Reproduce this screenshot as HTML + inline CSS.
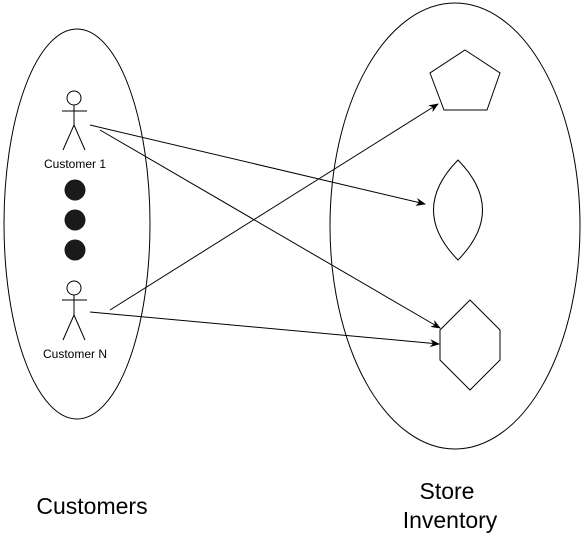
<!DOCTYPE html>
<html><head><style>body{margin:0;background:#fff}svg{display:block}</style></head><body>
<svg width="581" height="534" viewBox="0 0 581 534" xmlns="http://www.w3.org/2000/svg" font-family="Liberation Sans, sans-serif">
<defs><marker id="a" markerWidth="10" markerHeight="10" refX="9" refY="5" orient="auto" markerUnits="userSpaceOnUse"><path d="M0,1 L10,5 L0,9 L3,5 Z" fill="#000"/></marker></defs>
<g fill="none" stroke="#000" stroke-width="1">
<ellipse cx="77" cy="224" rx="73" ry="195"/>
<ellipse cx="455" cy="226" rx="125" ry="223"/>
<circle cx="74" cy="98" r="7"/><path d="M74,105V125M62,111H87M74,125L63,150M74,125L85,150"/>
<circle cx="74" cy="288" r="7"/><path d="M74,295V315M62,300H87M74,315L63,340M74,315L85,340"/>
<polygon points="465,50 500,73 487,110 444,110 430,73"/>
<path d="M458,160 Q507,210 458,260 Q409,210 458,160Z"/>
<polygon points="470,300 500,330 500,360 470,390 440,360 440,330"/>
<line x1="90" y1="125" x2="425" y2="204" marker-end="url(#a)"/>
<line x1="100" y1="130" x2="440" y2="328" marker-end="url(#a)"/>
<line x1="110" y1="310" x2="438" y2="104" marker-end="url(#a)"/>
<line x1="90" y1="312" x2="439" y2="344" marker-end="url(#a)"/>
</g>
<g fill="#1a1a1a"><circle cx="75" cy="190" r="10.5"/><circle cx="75" cy="220" r="10.5"/><circle cx="75" cy="250" r="10.5"/></g>
<g font-size="12" text-anchor="middle"><text x="75" y="168">Customer 1</text><text x="75" y="358">Customer N</text></g>
<g font-size="23" text-anchor="middle"><text x="92" y="514">Customers</text><text x="447" y="499">Store</text><text x="450" y="528">Inventory</text></g>
</svg>
</body></html>
